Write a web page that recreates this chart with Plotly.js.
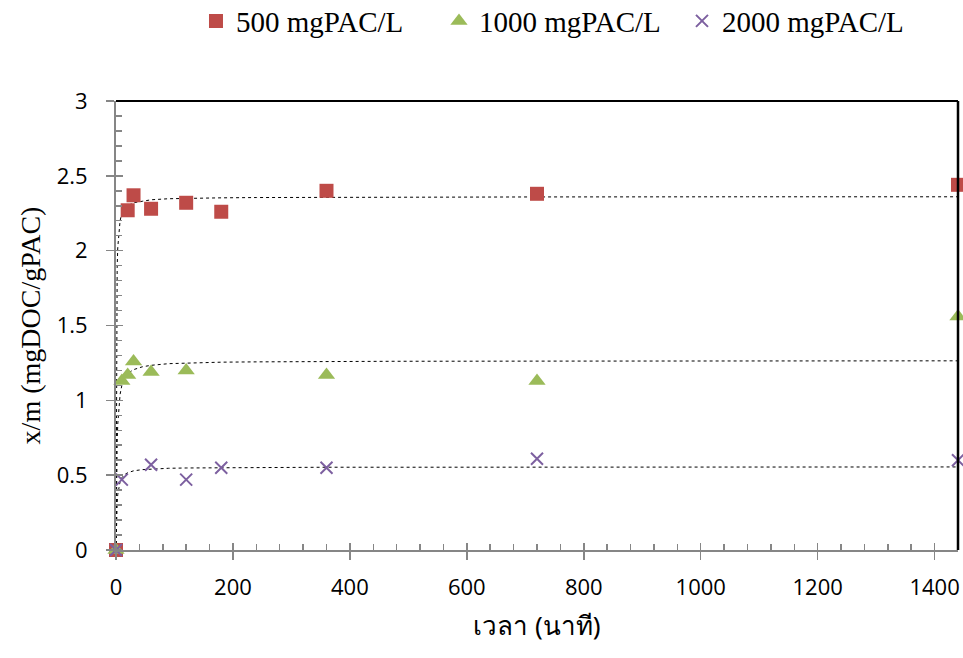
<!DOCTYPE html>
<html>
<head>
<meta charset="utf-8">
<script src="https://cdn.plot.ly/plotly-3.0.1.min.js"></script>
<style>html,body{margin:0;padding:0;background:#fff;}#chart{width:963px;height:658px;}</style>
</head>
<body>
<div id="chart"></div>
<script>
// Measured data (time in minutes, x/m in mgDOC/gPAC)
const seriesNames = ["500 mgPAC/L", "1000 mgPAC/L", "2000 mgPAC/L"];
const t500 = [0, 20, 30, 60, 120, 180, 360, 720, 1440];
const q500 = [0, 2.27, 2.37, 2.28, 2.32, 2.26, 2.40, 2.38, 2.44];
const t1000 = [0, 10, 20, 30, 60, 120, 360, 720, 1440];
const q1000 = [0, 1.13, 1.17, 1.26, 1.19, 1.20, 1.17, 1.13, 1.56];
const t2000 = [0, 10, 60, 120, 180, 360, 720, 1440];
const q2000 = [0, 0.47, 0.57, 0.47, 0.55, 0.55, 0.61, 0.60];

// Fitted curves
const fitT = [0, 0.5, 1, 2, 3, 5, 7, 10, 15, 20, 30, 45, 60, 90, 120, 180, 240, 360, 480, 720, 1080, 1440];
const fit500 = [0, 1.18, 1.57, 1.89, 2.02, 2.15, 2.20, 2.25, 2.28, 2.30, 2.32, 2.33, 2.34, 2.347, 2.35, 2.353, 2.355, 2.357, 2.358, 2.359, 2.36, 2.36];
const fit1000 = [0, 0.32, 0.51, 0.72, 0.84, 0.97, 1.04, 1.10, 1.15, 1.18, 1.205, 1.224, 1.234, 1.245, 1.25, 1.255, 1.257, 1.26, 1.261, 1.262, 1.263, 1.264];
const fit2000 = [0, 0.139, 0.222, 0.317, 0.37, 0.427, 0.457, 0.483, 0.505, 0.516, 0.529, 0.537, 0.541, 0.546, 0.548, 0.55, 0.552, 0.553, 0.553, 0.554, 0.555, 0.555];

const xTicks = [0, 200, 400, 600, 800, 1000, 1200, 1400];

const gray = '#868686';
const fitLine = {color: '#000', width: 1, dash: 'dot'};

const traces = [
  {x: fitT, y: fit500, mode: 'lines', line: fitLine, showlegend: false, hoverinfo: 'skip'},
  {x: fitT, y: fit1000, mode: 'lines', line: fitLine, showlegend: false, hoverinfo: 'skip'},
  {x: fitT, y: fit2000, mode: 'lines', line: fitLine, showlegend: false, hoverinfo: 'skip'},
  {x: t500, y: q500, name: seriesNames[0], mode: 'markers', cliponaxis: false,
   marker: {symbol: 'square', size: 14, color: '#BE4B48'}},
  {x: t1000, y: q1000, name: seriesNames[1], mode: 'markers', cliponaxis: false,
   marker: {symbol: 'triangle-up', size: 15, color: '#9BBB59'}},
  {x: t2000, y: q2000, name: seriesNames[2], mode: 'markers', cliponaxis: false,
   marker: {symbol: 'x-thin', size: 12, color: '#7D60A0', line: {width: 2, color: '#7D60A0'}}},
  // carrier for the inner half of the crossing major ticks
  {x: [null], y: [null], xaxis: 'x2', yaxis: 'y2', mode: 'markers', showlegend: false, hoverinfo: 'skip'}
];

const layout = {
  width: 963, height: 658,
  margin: {l: 116, r: 5, t: 101, b: 108},
  paper_bgcolor: '#fff', plot_bgcolor: '#fff',
  showlegend: true,
  legend: {orientation: 'h', xref: 'paper', x: 0.095, xanchor: 'left',
           yref: 'container', y: 0.968, yanchor: 'middle',
           font: {family: 'Liberation Serif, Times New Roman, serif', size: 29, color: '#000'},
           entrywidth: 198, entrywidthmode: 'pixels', itemwidth: 30, tracegroupgap: 0},
  xaxis: {
    range: [0, 1440], tickvals: xTicks,
    showgrid: false, zeroline: false,
    showline: true, linecolor: gray, linewidth: 2,
    ticks: 'outside', ticklen: 8, tickcolor: gray, tickwidth: 1.5,
    minor: {dtick: 40, tick0: 0, ticks: 'inside', ticklen: 6, tickcolor: gray, tickwidth: 1.5},
    ticklabelstandoff: 9, ticklabeloverflow: 'allow',
    tickfont: {family: 'Open Sans, sans-serif', size: 22, color: '#000'},
    title: {text: 'เวลา (นาที)', standoff: 16,
            font: {family: 'Noto Sans, DejaVu Sans, sans-serif', size: 26, color: '#000'}}
  },
  yaxis: {
    range: [0, 3], dtick: 0.5,
    showgrid: false, zeroline: false,
    showline: true, linecolor: gray, linewidth: 2,
    ticks: 'outside', ticklen: 8, tickcolor: gray, tickwidth: 1.5,
    minor: {dtick: 0.1, tick0: 0, ticks: 'inside', ticklen: 6, tickcolor: gray, tickwidth: 1.5},
    ticklabelstandoff: 14,
    tickfont: {family: 'Open Sans, sans-serif', size: 22, color: '#000'},
    title: {text: 'x/m (mgDOC/gPAC)', standoff: 8,
            font: {family: 'Liberation Serif, Times New Roman, serif', size: 28, color: '#000'}}
  },
  xaxis2: {
    overlaying: 'x', anchor: 'y2', side: 'bottom', range: [0, 1440], tickvals: xTicks,
    showgrid: false, zeroline: false, showline: false, showticklabels: false,
    ticks: 'inside', ticklen: 7, tickcolor: gray, tickwidth: 1.5
  },
  yaxis2: {
    overlaying: 'y', anchor: 'x2', side: 'left', range: [0, 3], dtick: 0.5,
    showgrid: false, zeroline: false, showline: false, showticklabels: false,
    ticks: 'inside', ticklen: 7, tickcolor: gray, tickwidth: 1.5
  },
  shapes: [
    {type: 'line', xref: 'paper', yref: 'paper', x0: 0, x1: 1, y0: 1, y1: 1, line: {color: '#000', width: 2}},
    {type: 'line', xref: 'paper', yref: 'paper', x0: 1, x1: 1, y0: 0, y1: 1, line: {color: '#000', width: 2.5}}
  ]
};

Plotly.newPlot('chart', traces, layout, {displayModeBar: false, staticPlot: true});
</script>
</body>
</html>
